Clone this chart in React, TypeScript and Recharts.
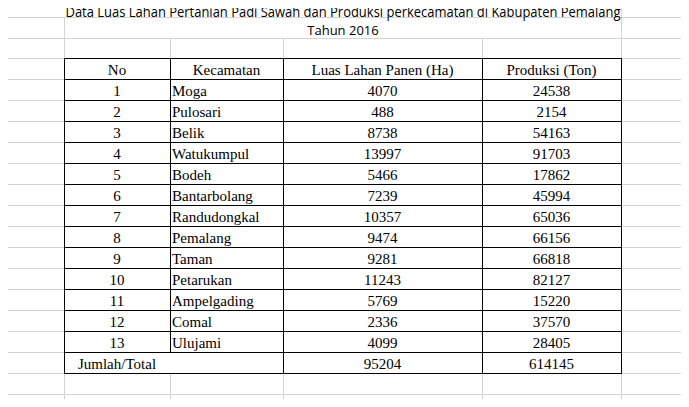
import { Surface, Layer, Text } from 'recharts'

const headers = ['No', 'Kecamatan', 'Luas Lahan Panen (Ha)', 'Produksi (Ton)']
const kecamatan = [
  'Moga', 'Pulosari', 'Belik', 'Watukumpul', 'Bodeh', 'Bantarbolang', 'Randudongkal',
  'Pemalang', 'Taman', 'Petarukan', 'Ampelgading', 'Comal', 'Ulujami',
]
const luasPanen = [4070, 488, 8738, 13997, 5466, 7239, 10357, 9474, 9281, 11243, 5769, 2336, 4099]
const produksi = [24538, 2154, 54163, 91703, 17862, 45994, 65036, 66156, 66818, 82127, 15220, 37570, 28405]
const totalLabel = 'Jumlah/Total'
const totalLuas = 95204
const totalProduksi = 614145
const title1 = 'Data Luas Lahan Pertanian Padi Sawah dan Produksi perkecamatan di Kabupaten Pemalang'
const title2 = 'Tahun 2016'

const W = 689
const H = 407
const colX = [64, 170, 283, 482, 621]
const top = 58
const rowH = 21
const gridCols = [2, 64, 170, 283, 482, 621, 688]
const gridRows = [17, 38, 58, 79, 100, 121, 142, 163, 184, 205, 226, 247, 268, 289, 310, 331, 352, 373, 394]

export default function App() {
  const rows = kecamatan.map((k, i) => [String(i + 1), k, String(luasPanen[i]), String(produksi[i])])
  rows.push([totalLabel, '', String(totalLuas), String(totalProduksi)])
  const serif = { fontFamily: 'Liberation Serif', fontSize: 15, fill: '#000' }
  return (
    <div style={{ margin: -8, width: W, height: H, background: '#fff' }}>
      <Surface width={W} height={H}>
        <Layer>
          {gridCols.map((x) => (
            <line key={'gc' + x} x1={x + 0.5} x2={x + 0.5} y1={0} y2={H} stroke={x === 2 ? '#9a9a9a' : '#d4d4d4'} />
          ))}
          {gridRows.map((y) => (
            <line key={'gr' + y} x1={2} x2={W} y1={y + 0.5} y2={y + 0.5} stroke="#d4d4d4" />
          ))}
          <rect x={colX[0]} y={0} width={colX[4] - colX[0]} height={17} fill="#fff" />
          <rect x={colX[0] + 1} y={18} width={colX[4] - colX[0] - 1} height={20} fill="#fff" />
        </Layer>
        <text x={343} y={17} textAnchor="middle" textLength={555} lengthAdjust="spacingAndGlyphs"
          style={{ fontFamily: 'Open Sans', fontSize: 14 }}>{title1}</text>
        <text x={343} y={35} textAnchor="middle" style={{ fontFamily: 'Open Sans', fontSize: 13 }}>{title2}</text>
        <Layer>
          <rect x={colX[0] + 0.5} y={top + 0.5} width={colX[4] - colX[0]} height={rowH * 15} fill="#fff" stroke="#000" />
          {Array.from({ length: 15 }, (_, r) => (
            <line key={'hr' + r} x1={colX[0]} x2={colX[4]} y1={top + rowH * (r + 1) + 0.5} y2={top + rowH * (r + 1) + 0.5} stroke="#000" />
          ))}
          {colX.slice(1, 4).map((x, c) => (
            <line key={'vl' + x} x1={x + 0.5} x2={x + 0.5} y1={top} y2={c === 0 ? top + rowH * 14 : top + rowH * 15} stroke="#000" />
          ))}
          {headers.map((h, c) => (
            <Text key={'h' + c} x={(colX[c] + colX[c + 1]) / 2} y={top + rowH / 2 + 1} textAnchor="middle" verticalAnchor="middle" style={serif}>{h}</Text>
          ))}
          {rows.map((row, r) =>
            row.map((cell, c) => {
              const y = top + rowH * (r + 1) + rowH / 2 + 1
              if (c === 1) {
                return <Text key={r + '-' + c} x={colX[1] + 2} y={y} verticalAnchor="middle" style={serif}>{cell}</Text>
              }
              return (
                <Text key={r + '-' + c} x={(colX[c] + colX[c + 1]) / 2} y={y} textAnchor="middle" verticalAnchor="middle" style={serif}>{cell}</Text>
              )
            })
          )}
        </Layer>
      </Surface>
    </div>
  )
}
